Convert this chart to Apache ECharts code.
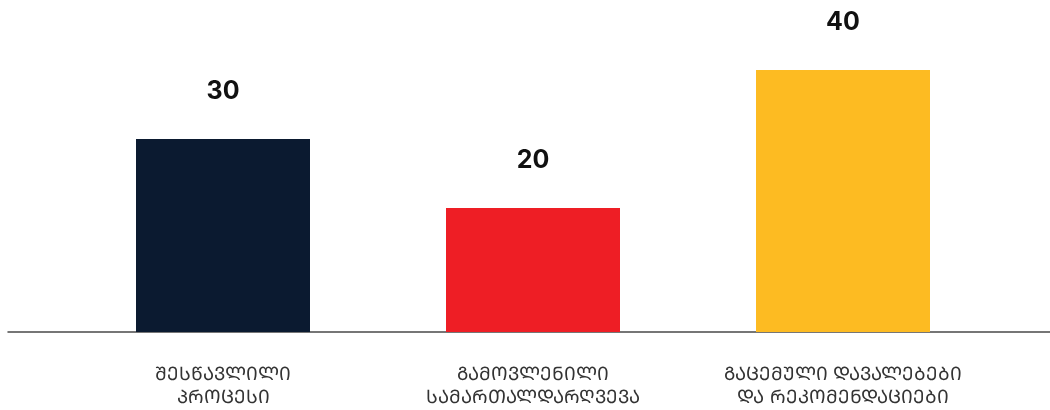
<!DOCTYPE html>
<html>
<head>
<meta charset="utf-8">
<script src="https://cdn.jsdelivr.net/npm/echarts@6/dist/echarts.min.js"></script>
<style>html,body{margin:0;padding:0;background:#fff}#c{width:1050px;height:410px}</style>
</head>
<body>
<div id="c"></div>
<script>
const categories = ['ᲨᲔᲡᲬᲐᲕᲚᲘᲚᲘ\nᲞᲠᲝᲪᲔᲡᲘ', 'ᲒᲐᲛᲝᲕᲚᲔᲜᲘᲚᲘ\nᲡᲐᲛᲐᲠᲗᲐᲚᲓᲐᲠᲦᲕᲔᲕᲐ', 'ᲒᲐᲪᲔᲛᲣᲚᲘ ᲓᲐᲕᲐᲚᲔᲑᲔᲑᲘ\nᲓᲐ ᲠᲔᲙᲝᲛᲔᲜᲓᲐᲪᲘᲔᲑᲘ'];
const values = [30, 20, 40];
const colors = ['#0B1A30', '#EE1E25', '#FDBB22'];

const chart = echarts.init(document.getElementById('c'));
chart.setOption({
  animation: false,
  grid: [
    {left: 68, right: 52, top: 70, bottom: 78},
    {left: 8, right: 0, top: 70, bottom: 78}
  ],
  xAxis: [
    {type: 'category', gridIndex: 0, data: categories,
      axisLine: {show: false}, axisTick: {show: false},
      axisLabel: {interval: 0, hideOverlap: false, margin: 32, fontSize: 18.5, lineHeight: 23, color: '#333', fontFamily: 'DejaVu Sans, Noto Sans, sans-serif'}},
    {type: 'value', gridIndex: 1, min: 0, max: 1,
      axisLine: {show: true, lineStyle: {color: '#4a4a4a', width: 1.5}},
      axisTick: {show: false}, axisLabel: {show: false}, splitLine: {show: false}}
  ],
  yAxis: [
    {type: 'value', gridIndex: 0, min: 2, max: 40, show: false},
    {type: 'value', gridIndex: 1, show: false}
  ],
  series: [{
    type: 'bar', xAxisIndex: 0, yAxisIndex: 0,
    barWidth: 174,
    data: values.map((v, i) => ({value: v, itemStyle: {color: colors[i]}})),
    label: {show: true, position: 'top', distance: 35, fontSize: 25, fontWeight: 'bold', color: '#111', fontFamily: 'Inter, Roboto, sans-serif'}
  }]
});
</script>
</body>
</html>
